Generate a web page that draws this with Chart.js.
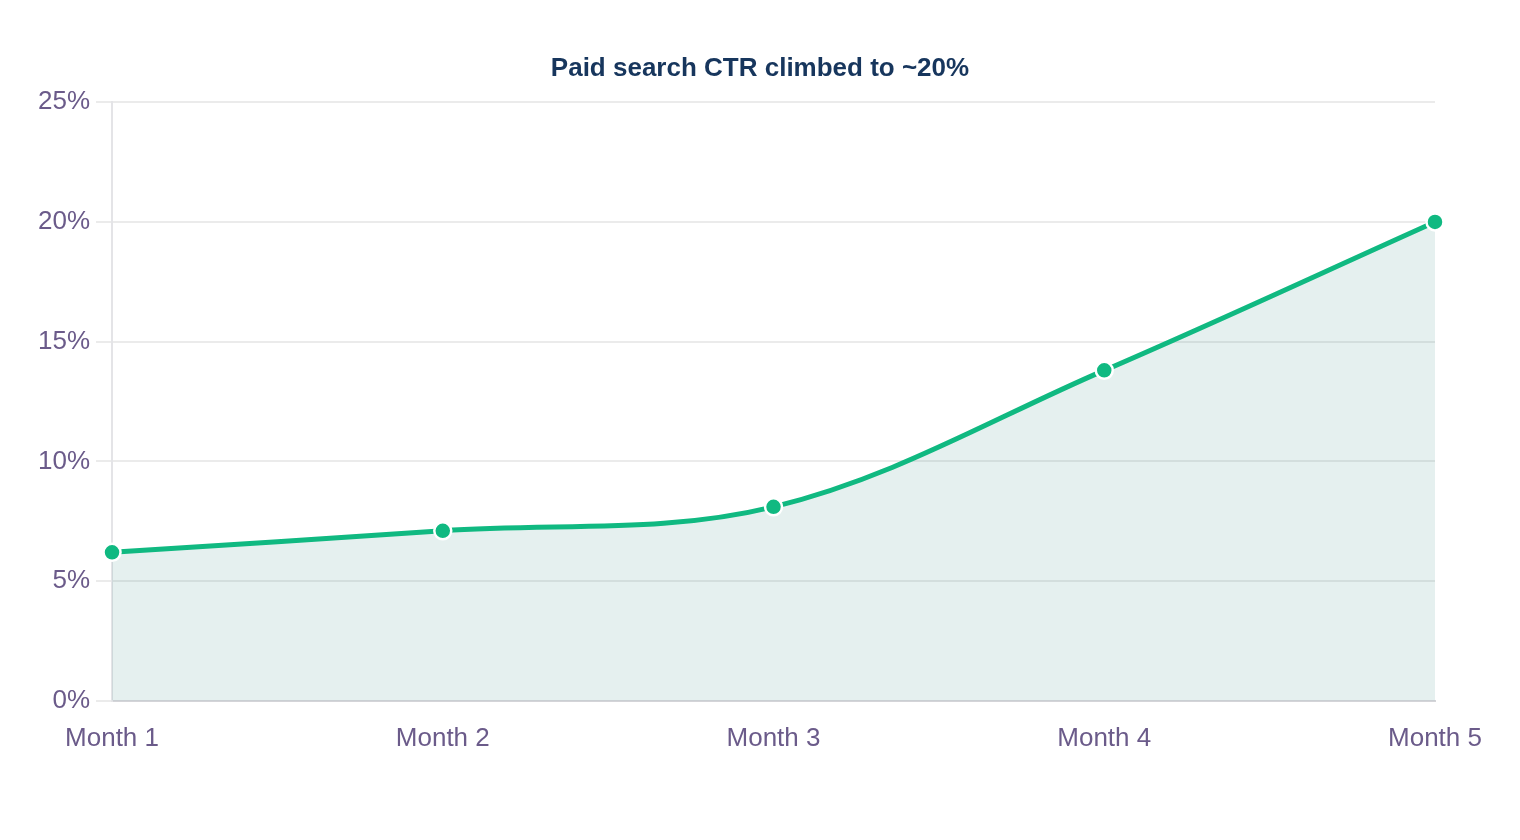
<!DOCTYPE html>
<html>
<head>
<meta charset="utf-8">
<title>Paid search CTR</title>
<script src="https://cdn.jsdelivr.net/npm/chart.js@4/dist/chart.umd.min.js"></script>
<style>
    html, body { margin: 0; padding: 0; background: #ffffff; }
    .wrap { width: 1520px; height: 840px; }
</style>
</head>
<body>
<div class="wrap"><canvas id="ctrChart"></canvas></div>
<script>
// Chart data
const months = ['Month 1', 'Month 2', 'Month 3', 'Month 4', 'Month 5'];
const ctrValues = [6.2, 7.1, 8.1, 13.8, 20.0];
const yTicks = [0, 5, 10, 15, 20, 25];

const labelColor = '#6b5b8a';
const fontFamily = 'Liberation Sans, Arial, sans-serif';

// Centre the title on the whole page rather than on the padded box
const centerTitle = {
    id: 'centerTitle',
    afterLayout(chart) {
        const block = chart.titleBlock;
        if (!block) return;
        block.left = 0;
        block.right = chart.width;
        block.width = chart.width;
    }
};

function renderCtrChart() {
    const ctx = document.getElementById('ctrChart').getContext('2d');

    new Chart(ctx, {
        type: 'line',
        data: {
            labels: months,
            datasets: [{
                label: 'Paid search CTR',
                data: ctrValues,
                borderColor: '#10b981',
                backgroundColor: 'rgba(15, 118, 110, 0.11)',
                fill: true,
                borderWidth: 5,
                tension: 0.35,
                pointRadius: 8.5,
                pointHoverRadius: 8.5,
                pointBackgroundColor: '#10b981',
                pointBorderColor: '#ffffff',
                pointBorderWidth: 2.5
            }]
        },
        options: {
            responsive: true,
            maintainAspectRatio: false,
            animation: false,
            layout: {
                padding: { top: 53, left: 32, right: 85, bottom: 64 }
            },
            plugins: {
                legend: { display: false },
                tooltip: { enabled: false },
                title: {
                    display: true,
                    text: 'Paid search CTR climbed to ~20%',
                    color: '#17365d',
                    font: { family: fontFamily, size: 26, weight: 'bold' },
                    padding: { top: 0, bottom: 18 }
                }
            },
            scales: {
                x: {
                    grid: { display: false, drawTicks: false },
                    border: { display: true, color: '#d4d4d8', width: 2 },
                    ticks: {
                        color: labelColor,
                        padding: 22,
                        font: { family: fontFamily, size: 26 }
                    }
                },
                y: {
                    min: 0,
                    max: 25,
                    afterBuildTicks: (axis) => { axis.ticks = yTicks.map(v => ({ value: v })); },
                    grid: { color: '#ebebeb', lineWidth: 2, tickLength: 16 },
                    border: { display: true, color: '#e4e4e7', width: 2 },
                    ticks: {
                        color: labelColor,
                        padding: 6,
                        font: { family: fontFamily, size: 26 },
                        callback: (value) => value + '%'
                    }
                }
            }
        },
        plugins: [centerTitle]
    });
}

document.addEventListener('DOMContentLoaded', renderCtrChart);
</script>
</body>
</html>
